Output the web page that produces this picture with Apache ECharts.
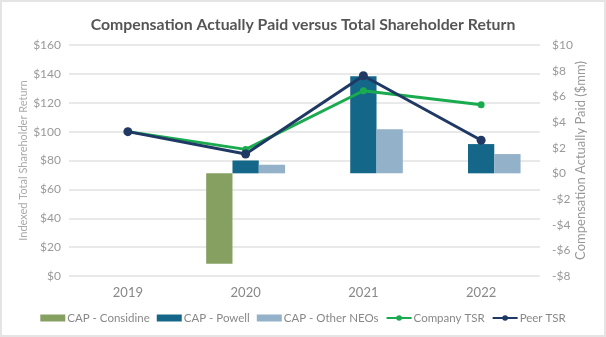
<!DOCTYPE html>
<html><head><meta charset="utf-8">
<script src="https://cdn.jsdelivr.net/npm/echarts@6/dist/echarts.min.js"></script>
<style>
html,body{margin:0;padding:0;background:#fff;}
#c{width:606px;height:337px;box-sizing:border-box;border:2px solid #e4e4e4;}
</style></head><body>
<div id="c"></div>
<script>
var years = ['2019','2020','2021','2022'];
var capConsidine = [null, -7.05, null, null];
var capPowell = [null, 1.0, 7.57, 2.28];
var capOther = [null, 0.67, 3.44, 1.5];
var companyTSR = [100, 87.7, 128.3, 118.6];
var peerTSR = [100, 84.5, 138.7, 94];
var leftTicks = {min:0, max:160, interval:20};
var rightTicks = {min:-8, max:10, interval:2};

var font = 'Lato, "Open Sans", sans-serif';
var chart = echarts.init(document.getElementById('c'), null, {renderer:'canvas'});
function money(v){ return (v<0?'-$':'$') + Math.abs(v); }
chart.setOption({
  animation:false,
  textStyle:{fontFamily:font},
  title:{text:'Compensation Actually Paid versus Total Shareholder Return', left:'center', top:10,
    textStyle:{fontFamily:font, fontSize:15.8, fontWeight:'bold', color:'#555'}},
  grid:{left:67, right:64, top:43, bottom:59},
  legend:{top:305, left:'center', width:590, itemWidth:25, itemHeight:7, itemGap:7,
    textStyle:{fontFamily:font, fontSize:11.5, color:'#888', padding:[0,0,0,-3]},
    data:[{name:'CAP - Considine', icon:'rect'},{name:'CAP - Powell', icon:'rect'},{name:'CAP - Other NEOs', icon:'rect'},'Company TSR','Peer TSR']},
  xAxis:{type:'category', data:years, axisLine:{show:false}, axisTick:{show:false},
    axisLabel:{color:'#888', fontSize:13, margin:10, fontFamily:font}},
  yAxis:[
    {type:'value', min:leftTicks.min, max:leftTicks.max, interval:leftTicks.interval,
     name:'Indexed Total Shareholder Return', nameLocation:'middle', nameGap:40, nameMoveOverlap:false,
     nameTextStyle:{color:'#aaa', fontSize:11, fontFamily:font},
     axisLabel:{formatter:money, color:'#999', fontSize:12, margin:8, fontFamily:font},
     splitLine:{lineStyle:{color:'#e2e2e2', width:1.5}}},
    {type:'value', min:rightTicks.min, max:rightTicks.max, interval:rightTicks.interval, position:'right',
     name:'Compensation Actually Paid ($mm)', nameLocation:'middle', nameGap:34, nameMoveOverlap:false,
     nameTextStyle:{color:'#999', fontSize:13, fontFamily:font},
     axisLabel:{formatter:money, color:'#999', fontSize:12, margin:12, fontFamily:font},
     splitLine:{show:false}}
  ],
  series:[
    {name:'CAP - Considine', type:'bar', yAxisIndex:1, data:capConsidine, barGap:'0%', barCategoryGap:'33%', itemStyle:{color:'#86a062'}},
    {name:'CAP - Powell', type:'bar', yAxisIndex:1, data:capPowell, barGap:'0%', itemStyle:{color:'#156789'}},
    {name:'CAP - Other NEOs', type:'bar', yAxisIndex:1, data:capOther, barGap:'0%', itemStyle:{color:'#93b1c8'}},
    {name:'Company TSR', type:'line', yAxisIndex:0, data:companyTSR, symbol:'circle', symbolSize:7,
     lineStyle:{width:3, color:'#1aab4f'}, itemStyle:{color:'#1aab4f'}},
    {name:'Peer TSR', type:'line', yAxisIndex:0, data:peerTSR, symbol:'circle', symbolSize:9,
     lineStyle:{width:3, color:'#1f3864'}, itemStyle:{color:'#1f3864'}}
  ]
});
</script></body></html>
